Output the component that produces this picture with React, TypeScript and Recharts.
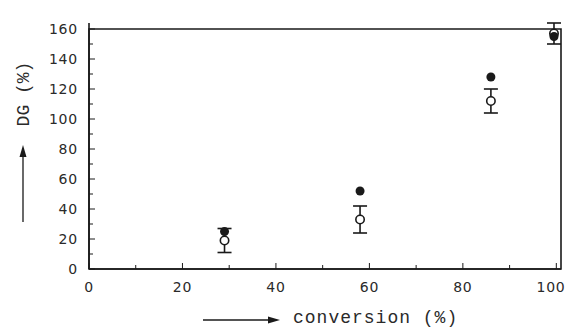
import { ScatterChart, Scatter, XAxis, YAxis, ErrorBar, ReferenceArea } from "recharts";

// DG measured against conversion, two sample series
const conversion = [29, 58, 86, 99.5];
const dgFilled = [25, 52, 128, 155];
const dgOpen = [19, 33, 112, 157];
const dgOpenErr = [8, 9, 8, 7];

const xTicks = [0, 10, 20, 30, 40, 50, 60, 70, 80, 90, 100];
const yTicks = [0, 10, 20, 30, 40, 50, 60, 70, 80, 90, 100, 110, 120, 130, 140, 150, 160];

const filledData = conversion.map((x, i) => ({ x, y: dgFilled[i] }));
const openData = conversion.map((x, i) => ({ x, y: dgOpen[i], err: dgOpenErr[i] }));

const INK = "#1a1a1a";
const tickFont = { fontFamily: "DejaVu Sans", fontSize: 14, fill: "#2a2a2a", letterSpacing: 0.8 };

// ticks point into the plot; only every second one is labelled
const YTick = (props: any) => {
  const { y, payload } = props;
  const major = payload.value % 20 === 0;
  return (
    <g>
      <line x1={89} x2={major ? 95 : 93} y1={y} y2={y} stroke={INK} strokeWidth={1} />
      {major && (
        <text x={78} y={y + 5} textAnchor="end" {...tickFont}>
          {payload.value}
        </text>
      )}
    </g>
  );
};

const XTick = (props: any) => {
  const { x, payload } = props;
  const major = payload.value % 20 === 0;
  return (
    <g>
      <line x1={x} x2={x} y1={269} y2={major ? 263 : 265} stroke={INK} strokeWidth={1} />
      {major && (
        <text x={Math.min(x, 551)} y={292} textAnchor="middle" {...tickFont}>
          {payload.value}
        </text>
      )}
    </g>
  );
};

const OpenDot = (props: any) => (
  <circle cx={props.cx} cy={props.cy} r={4.2} fill="#fff" stroke={INK} strokeWidth={1.6} />
);

const FilledDot = (props: any) => (
  <circle cx={props.cx} cy={props.cy} r={4.5} fill={INK} />
);

const titleFont = { fontFamily: "Liberation Mono", fontSize: 18, fill: "#2a2a2a" };

export default function App() {
  return (
    <div style={{ position: "absolute", left: 0, top: 0, width: 567, height: 329, background: "#fff" }}>
      <ScatterChart width={567} height={329} margin={{ top: 23, right: 6, bottom: 0, left: 49 }}>
        <XAxis
          dataKey="x"
          type="number"
          domain={[0, 101]}
          ticks={xTicks}
          interval={0}
          tick={<XTick />}
          tickLine={false}
          axisLine={{ stroke: INK, strokeWidth: 1.6 }}
          height={60}
        />
        <YAxis
          dataKey="y"
          type="number"
          domain={[0, 160]}
          ticks={yTicks}
          interval={0}
          tick={<YTick />}
          tickLine={false}
          axisLine={{ stroke: INK, strokeWidth: 1.6 }}
          width={40}
        />
        {/* closed frame around the plot */}
        <ReferenceArea x1={0} x2={101} y1={0} y2={160} fill="none" stroke={INK} strokeWidth={1.6} ifOverflow="visible" />
        <Scatter data={openData} shape={<OpenDot />} isAnimationActive={false}>
          <ErrorBar dataKey="err" direction="y" width={7} stroke={INK} strokeWidth={1.6} />
        </Scatter>
        <Scatter data={filledData} shape={<FilledDot />} isAnimationActive={false} />

        {/* axis titles with their arrows */}
        <g>
          <line x1={23} x2={23} y1={222} y2={155} stroke={INK} strokeWidth={1.3} />
          <path d="M23,145 L19.5,157 L26.5,157 Z" fill={INK} />
          <text transform="translate(29,94) rotate(-90)" textAnchor="middle" {...titleFont}>
            DG (%)
          </text>
        </g>
        <g>
          <line x1={203} x2={270} y1={320} y2={320} stroke={INK} strokeWidth={1.3} />
          <path d="M280,320 L268,316.5 L268,323.5 Z" fill={INK} />
          <text x={293} y={323} {...titleFont} letterSpacing={1}>
            conversion (%)
          </text>
        </g>
      </ScatterChart>
    </div>
  );
}
